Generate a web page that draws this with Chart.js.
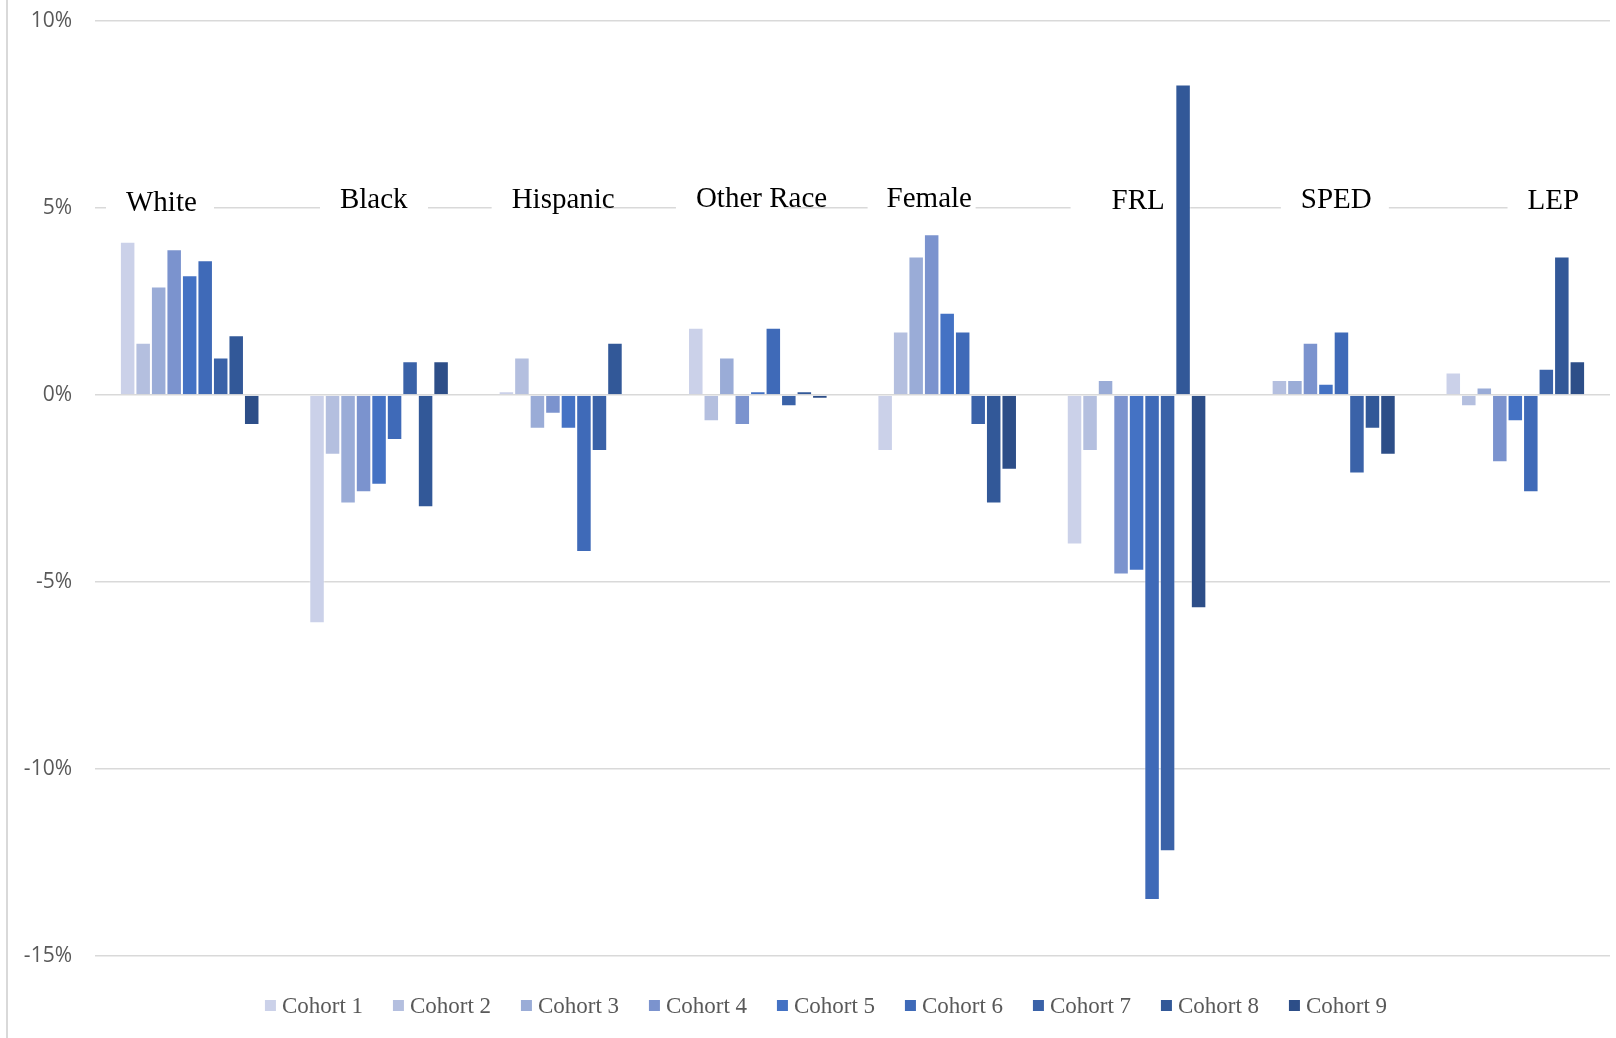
<!DOCTYPE html>
<html>
<head>
<meta charset="utf-8">
<script src="https://cdn.jsdelivr.net/npm/chart.js@4/dist/chart.umd.min.js"></script>
<style>
  html, body { margin: 0; padding: 0; background: #ffffff; }
  #wrap { width: 1616px; height: 1038px; }
</style>
</head>
<body>
<div id="wrap"><canvas id="c" width="1616" height="1038"></canvas></div>
<script>
// ---- data ----
const categories = ['White', 'Black', 'Hispanic', 'Other Race', 'Female', 'FRL', 'SPED', 'LEP'];
const seriesNames = ['Cohort 1', 'Cohort 2', 'Cohort 3', 'Cohort 4', 'Cohort 5', 'Cohort 6', 'Cohort 7', 'Cohort 8', 'Cohort 9'];
const cohort1 = [4.1, -6.1, 0.1, 1.8, -1.5, -4.0, 0, 0.6];
const cohort2 = [1.4, -1.6, 1.0, -0.7, 1.7, -1.5, 0.4, -0.3];
const cohort3 = [2.9, -2.9, -0.9, 1.0, 3.7, 0.4, 0.4, 0.2];
const cohort4 = [3.9, -2.6, -0.5, -0.8, 4.3, -4.8, 1.4, -1.8];
const cohort5 = [3.2, -2.4, -0.9, 0.1, 2.2, -4.7, 0.3, -0.7];
const cohort6 = [3.6, -1.2, -4.2, 1.8, 1.7, -13.5, 1.7, -2.6];
const cohort7 = [1.0, 0.9, -1.5, -0.3, -0.8, -12.2, -2.1, 0.7];
const cohort8 = [1.6, -3.0, 1.4, 0.1, -2.9, 8.3, -0.9, 3.7];
const cohort9 = [-0.8, 0.9, 0, -0.1, -2.0, -5.7, -1.6, 0.9];
const yTicks = [-15, -10, -5, 0, 5, 10];

// ---- styles ----
const colors = ['#CBD1E9', '#B4BFDF', '#9AACD7', '#7B93CE', '#4472C4', '#3F6AB8', '#3A62A8', '#325898', '#2D4E88'];
const allSeries = [cohort1, cohort2, cohort3, cohort4, cohort5, cohort6, cohort7, cohort8, cohort9];

const datasets = allSeries.map((vals, i) => ({
  label: seriesNames[i],
  data: vals,
  backgroundColor: colors[i],
  borderColor: 'rgba(255,255,255,0.35)',
  borderWidth: 1,
  categoryPercentage: 0.737,
  barPercentage: 1.0
}));

const framePlugin = {
  id: 'frame',
  beforeDraw(chart) {
    const ctx = chart.ctx;
    ctx.save();
    ctx.fillStyle = '#ffffff';
    ctx.fillRect(0, 0, chart.width, chart.height);
    ctx.strokeStyle = '#d9d9d9';
    ctx.lineWidth = 2;
    ctx.beginPath();
    ctx.moveTo(7, 0);
    ctx.lineTo(7, chart.height);
    ctx.stroke();
    ctx.restore();
  }
};

const groupLabelPlugin = {
  id: 'groupLabels',
  beforeDatasetsDraw(chart, args, opts) {
    const ctx = chart.ctx;
    const xs = chart.scales.x, ys = chart.scales.y;
    const cw = xs.getPixelForValue(1) - xs.getPixelForValue(0);
    const yb = ys.getPixelForValue(5);
    ctx.save();
    ctx.font = '29px "Liberation Serif", "Times New Roman", serif';
    ctx.textBaseline = 'alphabetic';
    ctx.textAlign = 'left';
    categories.forEach((c, i) => {
      const start = xs.getPixelForValue(i) - cw / 2;
      const bx = start + opts.boxOffsets[i];
      ctx.fillStyle = '#ffffff';
      ctx.fillRect(bx, yb - 32, opts.boxWidth, 40);
      ctx.fillStyle = '#000000';
      ctx.fillText(c, bx + opts.textOffsets[i], yb + opts.baselineDy[i]);
    });
    ctx.restore();
  }
};

const legendPlugin = {
  id: 'customLegend',
  afterDraw(chart, args, opts) {
    const ctx = chart.ctx;
    ctx.save();
    ctx.font = '23px "Liberation Serif", "Times New Roman", serif';
    ctx.textBaseline = 'alphabetic';
    ctx.textAlign = 'left';
    const n = chart.data.datasets.length;
    const lastW = ctx.measureText(chart.data.datasets[n - 1].label).width;
    const total = (n - 1) * opts.step + opts.box + opts.gap + lastW;
    const x0 = chart.width / 2 + opts.centerShift - total / 2;
    chart.data.datasets.forEach((ds, i) => {
      const x = x0 + i * opts.step;
      ctx.fillStyle = ds.backgroundColor;
      ctx.fillRect(x, opts.boxTop, opts.box, opts.box);
      ctx.fillStyle = '#595959';
      ctx.fillText(ds.label, x + opts.box + opts.gap, opts.baseline);
    });
    ctx.restore();
  }
};

new Chart(document.getElementById('c'), {
  type: 'bar',
  data: { labels: categories, datasets: datasets },
  plugins: [framePlugin, groupLabelPlugin, legendPlugin],
  options: {
    responsive: false,
    animation: false,
    devicePixelRatio: 1,
    layout: { padding: { top: 21, bottom: 82, left: 0, right: 6 } },
    plugins: {
      legend: { display: false },
      tooltip: { enabled: false },
      groupLabels: {
        boxOffsets: [11, 35.6, 17.9, 12.8, 15.1, 28.7, 49.6, 86.9],
        textOffsets: [20, 20, 20, 20, 19, 41, 20, 20],
        baselineDy: [3, 0, 0, -1.5, -1, 0.5, 0, 1],
        boxWidth: 108
      },
      customLegend: {
        step: 128, box: 11, gap: 6, boxTop: 1000, baseline: 1013, centerShift: 18
      }
    },
    scales: {
      x: {
        display: false,
        grid: { display: false }
      },
      y: {
        min: -15,
        max: 10,
        afterBuildTicks(scale) { scale.ticks = yTicks.map(v => ({ value: v })); },
        afterFit(scale) {
          scale.width = 95;
          scale.paddingTop = 0;
          scale.paddingBottom = 0;
        },
        border: { display: false },
        grid: { color: '#d9d9d9', lineWidth: 1.5, drawTicks: false },
        ticks: {
          padding: 23,
          color: '#595959',
          font: { family: '"Open Sans", "Liberation Sans", sans-serif', size: 21 },
          callback: v => v + '%'
        }
      }
    }
  }
});
</script>
</body>
</html>
